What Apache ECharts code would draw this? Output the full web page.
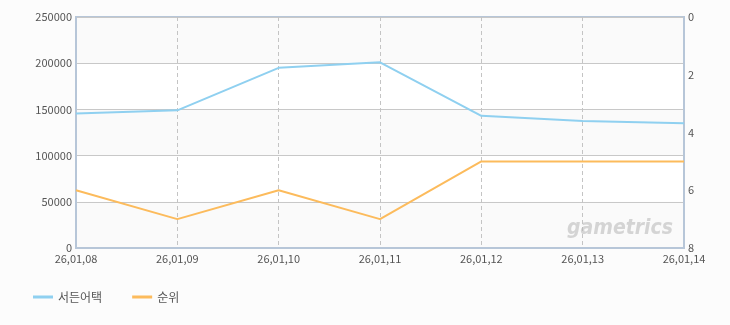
<!DOCTYPE html>
<html><head><meta charset="utf-8">
<script src="https://cdn.jsdelivr.net/npm/echarts@6/dist/echarts.min.js"></script>
<style>html,body{margin:0;padding:0;background:#fcfcfc;}#c{width:730px;height:325px;}</style>
</head><body><div id="c"></div>
<script>
const categories = ['26,01,08','26,01,09','26,01,10','26,01,11','26,01,12','26,01,13','26,01,14'];
const users = [145500, 149000, 195000, 201000, 143000, 137500, 135000];
const ranks = [6, 7, 6, 7, 5, 5, 5];
const seriesNames = ['서든어택', '순위'];
const leftTicks = {min: 0, max: 250000, interval: 50000};
const rightTicks = {min: 0, max: 8, interval: 2};

const font = '"Noto Sans CJK KR", "DejaVu Sans", sans-serif';
const borderColor = '#b7c6d8';
const chart = echarts.init(document.getElementById('c'), null, {renderer: 'canvas'});
chart.setOption({
  backgroundColor: '#fcfcfc',
  animation: false,
  grid: {left: 76, right: 46, top: 17, bottom: 77, show: true, borderColor: borderColor, borderWidth: 2,
         backgroundColor: 'transparent'},
  legend: {left: 28, bottom: 17, itemWidth: 20, itemHeight: 3, itemGap: 30,
           icon: 'rect', textStyle: {color: '#555', fontSize: 12, fontFamily: font},
           data: seriesNames},
  graphic: [{type: 'text', right: 57, bottom: 86, z: 100, silent: true,
    style: {text: 'gametrics', fill: 'rgba(180,180,180,0.55)', font: 'italic bold 21px "DejaVu Sans Condensed", "DejaVu Sans", sans-serif'}}],
  xAxis: {type: 'category', data: categories, boundaryGap: false,
    axisLine: {show: true, lineStyle: {color: borderColor, width: 2}}, axisTick: {show: false},
    axisLabel: {color: '#555', fontSize: 11, fontFamily: font, margin: 5, interval: 0},
    splitLine: {show: true, interval: function (i) { return i !== 0 && i !== categories.length - 1; },
                lineStyle: {color: '#c4c4c4', type: [4, 3], width: 1}}},
  yAxis: [
    {type: 'value', min: leftTicks.min, max: leftTicks.max, interval: leftTicks.interval,
     axisLine: {show: true, lineStyle: {color: borderColor, width: 2}}, axisTick: {show: false},
     axisLabel: {color: '#555', fontSize: 11, fontFamily: font, margin: 4, formatter: function (v) { return String(v); }},
     splitLine: {lineStyle: {color: '#c8c8c8', width: 1}},
     splitArea: {show: true, areaStyle: {color: ['#fafafa', '#ffffff']}}},
    {type: 'value', inverse: true, min: rightTicks.min, max: rightTicks.max, interval: rightTicks.interval,
     position: 'right', axisLine: {show: true, lineStyle: {color: borderColor, width: 2}}, axisTick: {show: false},
     axisLabel: {color: '#555', fontSize: 11, fontFamily: font, margin: 4},
     splitLine: {show: false}}
  ],
  series: [
    {name: seriesNames[0], type: 'line', data: users, yAxisIndex: 0, symbol: 'none',
     lineStyle: {color: '#8fd0f0', width: 2}, itemStyle: {color: '#8fd0f0'}},
    {name: seriesNames[1], type: 'line', data: ranks, yAxisIndex: 1, symbol: 'none',
     lineStyle: {color: '#fcbb5c', width: 2}, itemStyle: {color: '#fcbb5c'}}
  ]
});
</script></body></html>
